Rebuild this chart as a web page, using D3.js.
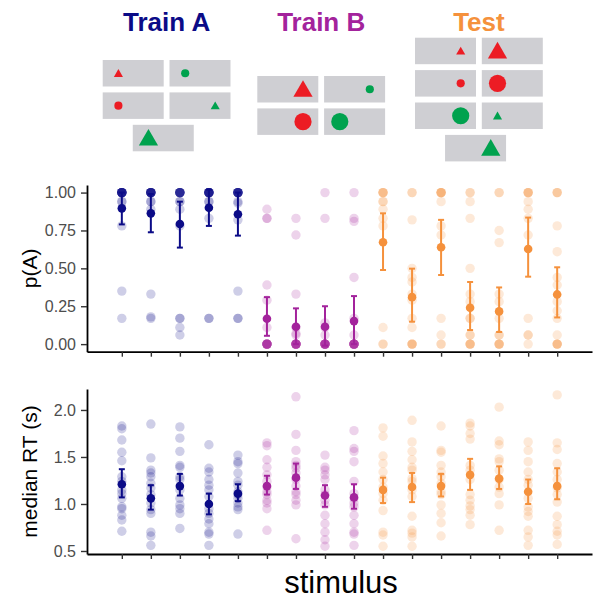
<!DOCTYPE html>
<html>
<head>
<meta charset="utf-8">
<script src="https://cdn.jsdelivr.net/npm/d3@7"></script>
<style>
body { margin: 0; background: #fff; }
svg { display: block; font-family: "Liberation Sans", Arial, sans-serif; }
</style>
</head>
<body>
<svg width="594" height="601"></svg>
<script>
// ---- data ----
var groups = ["Train A", "Train B", "Test"];
var groupColors = ["#0b0b87", "#a3239c", "#f5913c"];

var stimuli = ["A1", "A2", "A3", "A4", "A5", "B1", "B2", "B3", "B4",
               "T1", "T2", "T3", "T4", "T5", "T6", "T7"];
var stimGroup = [0, 0, 0, 0, 0, 1, 1, 1, 1, 2, 2, 2, 2, 2, 2, 2];

// what each stimulus looks like
var stimColor = ["red", "green", "red", "green", "green", "red", "green", "red", "green",
                 "red", "red", "red", "red", "green", "green", "green"];
var stimShape = ["tri", "circle", "circle", "tri", "tri", "tri", "circle", "circle", "circle",
                 "tri", "tri", "circle", "circle", "circle", "tri", "tri"];
var stimSize = ["small", "small", "small", "small", "big", "big", "small", "big", "big",
                "small", "big", "small", "big", "big", "small", "big"];
var stimSide = ["left", "left", "left", "right", "left", "right", "right", "right", "left",
                "right", "left", "right", "left", "right", "left", "right"];

// p(A) per participant
var pA = [
  [1,1,1,1,1,1,1,1,1,1,1,1, .94,.94, .78, .35, .17],
  [1,1,1,1,1,1,1,1,1,1,1, .94,.94, .89, .33, .17, .18],
  [1,1,1,1,1,1,1,1,1, .94,.94, .89, .78, .17,.17, .11, .06],
  [1,1,1,1,1,1,1,1,1,1,1, .94,.94, .83, .17,.17],
  [1,1,1,1,1,1,1,1,1,1, .94, .93, .82, .35, .17,.17],
  [.89, .83,.83, .39, .29, .11, 0,0,0,0,0,0,0,0,0,0],
  [.83, .72, .33, .11, .07, .06, 0,0,0,0,0,0,0,0,0,0],
  [1, .83, .14, .11, .06, 0,0,0,0,0,0,0,0,0,0],
  [1, .83, .81, .44, .17, .06, 0,0,0,0,0,0,0,0,0,0],
  [1,1,1,1, .94,.94, .89, .83, .78, .11, 0,0],
  [1,1, .82, .5, .44, .41, .33, .29, .17, .11, 0,0,0,0],
  [1,1,1,1,1, .94, .78, .72, .17, .06, 0,0],
  [1,1, .94, .83, .5, .33, .28, .17, .17, .06,.06, 0,0,0,0],
  [1,1, .75, .67, .33, .28, .17, .06,.06, 0,0,0,0],
  [1,1,1,1, .94, .89, .83, .72, .17, .06,.06, 0],
  [1,1,1, .78, .61, .44, .39, .28, .22, .17, .06, 0,0,0,0]
];
var pAMean = [0.896, 0.863, 0.793, 0.90, 0.857, 0.167, 0.115, 0.115, 0.152,
              0.672, 0.31, 0.639, 0.24, 0.216, 0.628, 0.328];
var pALo = [0.79, 0.738, 0.637, 0.78, 0.716, 0.055, 0.0, -0.01, 0.0,
            0.489, 0.148, 0.456, 0.093, 0.08, 0.445, 0.176];
var pAHi = [1.0, 0.99, 0.94, 1.02, 1.0, 0.31, 0.236, 0.25, 0.317,
            0.863, 0.498, 0.82, 0.41, 0.374, 0.835, 0.507];

// median RT (s) per participant
var rt = [
  [1.83, 1.80, 1.68, 1.55, 1.46, 1.29, 1.24, 1.15, 1.11, 1.06, 0.97, 0.95, 0.88, 0.83, 0.71],
  [1.85, 1.49, 1.36, 1.33, 1.29, 1.22, 1.17, 1.10, 1.01, 0.94, 0.90, 0.70, 0.66, 0.56],
  [1.82, 1.70, 1.56, 1.41, 1.39, 1.29, 1.26, 1.15, 1.06, 0.99, 0.95, 0.90, 0.74],
  [1.63, 1.38, 1.34, 1.26, 1.20, 1.15, 1.08, 0.95, 0.90, 0.84, 0.79, 0.70, 0.68, 0.56],
  [1.52, 1.45, 1.43, 1.33, 1.24, 1.20, 1.13, 1.10, 1.06, 1.01, 0.97, 0.94, 0.68],
  [1.65, 1.62, 1.47, 1.39, 1.31, 1.24, 1.18, 1.13, 1.10, 1.04, 1.01, 0.95, 0.72],
  [2.14, 1.74, 1.57, 1.45, 1.41, 1.38, 1.33, 1.26, 1.19, 1.13, 1.10, 1.04, 0.99, 0.63],
  [1.52, 1.39, 1.36, 1.31, 1.26, 1.15, 1.10, 1.04, 0.99, 0.88, 0.79, 0.70, 0.62, 0.55],
  [1.78, 1.59, 1.56, 1.45, 1.24, 1.11, 1.06, 1.01, 0.97, 0.88, 0.79, 0.70, 0.68, 0.56],
  [1.81, 1.72, 1.51, 1.43, 1.34, 1.26, 1.18, 1.11, 1.04, 0.93, 0.70, 0.67, 0.55],
  [1.89, 1.66, 1.56, 1.47, 1.39, 1.36, 1.27, 1.24, 1.15, 1.08, 0.87, 0.72, 0.69, 0.65, 0.55],
  [1.83, 1.57, 1.55, 1.41, 1.34, 1.29, 1.22, 1.13, 1.10, 0.99, 0.90, 0.80, 0.66],
  [1.86, 1.83, 1.75, 1.69, 1.41, 1.36, 1.26, 1.10, 1.04, 0.98, 0.94, 0.88, 0.78],
  [2.03, 1.67, 1.63, 1.48, 1.45, 1.36, 1.26, 1.18, 1.11, 0.99, 0.72],
  [1.66, 1.57, 1.45, 1.34, 1.26, 1.20, 1.06, 0.97, 0.92, 0.87, 0.72, 0.65, 0.56],
  [2.16, 1.65, 1.58, 1.43, 1.34, 1.26, 1.17, 1.10, 1.02, 0.87, 0.78, 0.71, 0.67, 0.57]
];
var rtMean = [1.21, 1.06, 1.19, 1.00, 1.11, 1.19, 1.28, 1.09, 1.07,
              1.15, 1.18, 1.19, 1.31, 1.27, 1.13, 1.19];
var rtLo = [1.07, 0.94, 1.09, 0.89, 1.03, 1.10, 1.16, 0.97, 0.95,
            1.01, 1.02, 1.08, 1.15, 1.16, 1.00, 1.05];
var rtHi = [1.37, 1.20, 1.32, 1.11, 1.21, 1.30, 1.43, 1.20, 1.21,
            1.28, 1.33, 1.32, 1.48, 1.40, 1.26, 1.38];

var pATicks = [0, 0.25, 0.5, 0.75, 1];
var rtTicks = [0.5, 1.0, 1.5, 2.0];

// ---- chart ----
var svg = d3.select("svg");
var shapeColors = { red: "#ec1c24", green: "#00a24e" };

var x = d3.scalePoint()
    .domain(stimuli)
    .range([87, 592])
    .padding(1.2);

var color = function(i) { return groupColors[stimGroup[i]]; };

// stimulus schematics at the top
var groupOrigin = [[102.7, 60], [257.3, 76], [415, 37.7]];
var cellW = 61, cellH = 26.5, pitchX = 66.8, pitchY = 32.4;

groups.forEach(function(g, gi) {
  svg.append("text")
      .attr("x", groupOrigin[gi][0] + (pitchX + cellW) / 2)
      .attr("y", 30.5)
      .attr("text-anchor", "middle")
      .attr("font-size", 26)
      .attr("font-weight", "bold")
      .attr("fill", groupColors[gi])
      .text(g);
});

var cells = [];
stimuli.forEach(function(s, i) {
  var gi = stimGroup[i];
  var members = stimGroup.filter(function(g) { return g === gi; }).length;
  var k = stimGroup.slice(0, i).filter(function(g) { return g === gi; }).length;
  var col = (k === members - 1 && members % 2 === 1) ? 0.45 : k % 2;
  cells.push({
    i: i,
    x: groupOrigin[gi][0] + col * pitchX,
    y: groupOrigin[gi][1] + Math.floor(k / 2) * pitchY
  });
});

var cell = svg.selectAll("g.stim")
  .data(cells)
  .enter().append("g")
    .attr("class", "stim")
    .attr("transform", function(d) { return "translate(" + d.x + "," + d.y + ")"; });

cell.append("rect")
    .attr("width", cellW)
    .attr("height", cellH)
    .attr("fill", "#cfcfd3");

var symbolArea = {
  tri: { small: 36, big: 160 },
  circle: { small: 52, big: 232 }
};

cell.append("path")
    .attr("transform", function(d) {
      var cx = stimSide[d.i] === "left" ? 15.7 : 45.7;
      var dy = stimShape[d.i] === "tri" ? (stimSize[d.i] === "big" ? 2 : 1) : 0;
      return "translate(" + cx + "," + (cellH / 2 + dy) + ")";
    })
    .attr("d", function(d) {
      var type = stimShape[d.i] === "tri" ? d3.symbolTriangle : d3.symbolCircle;
      return d3.symbol().type(type).size(symbolArea[stimShape[d.i]][stimSize[d.i]])();
    })
    .attr("fill", function(d) { return shapeColors[stimColor[d.i]]; });

// one panel = dots + mean + error bar
function panel(opts) {
  var y = d3.scaleLinear().domain(opts.domain).range([opts.bottom, opts.top]);
  var g = svg.append("g");

  var pts = [];
  opts.values.forEach(function(vals, i) {
    vals.forEach(function(v) { pts.push({ i: i, v: v }); });
  });

  g.selectAll("circle.raw")
    .data(pts)
    .enter().append("circle")
      .attr("class", "raw")
      .attr("cx", function(d) { return x(stimuli[d.i]); })
      .attr("cy", function(d) { return y(d.v); })
      .attr("r", 4.7)
      .attr("fill", function(d) { return color(d.i); })
      .attr("fill-opacity", 0.2);

  var bars = g.selectAll("g.bar")
    .data(stimuli.map(function(s, i) { return i; }))
    .enter().append("g")
      .attr("class", "bar")
      .attr("stroke", function(i) { return color(i); })
      .attr("stroke-width", 2);

  bars.append("line")
      .attr("x1", function(i) { return x(stimuli[i]); })
      .attr("x2", function(i) { return x(stimuli[i]); })
      .attr("y1", function(i) { return y(opts.lo[i]); })
      .attr("y2", function(i) { return y(opts.hi[i]); });

  [opts.lo, opts.hi].forEach(function(arr) {
    bars.append("line")
        .attr("x1", function(i) { return x(stimuli[i]) - 3; })
        .attr("x2", function(i) { return x(stimuli[i]) + 3; })
        .attr("y1", function(i) { return y(arr[i]); })
        .attr("y2", function(i) { return y(arr[i]); });
  });

  bars.append("circle")
      .attr("cx", function(i) { return x(stimuli[i]); })
      .attr("cy", function(i) { return y(opts.mean[i]); })
      .attr("r", 4.3)
      .attr("stroke", "none")
      .attr("fill", function(i) { return color(i); });

  var yAxis = g.append("g")
      .attr("transform", "translate(87,0)")
      .call(d3.axisLeft(y).tickValues(opts.ticks).tickFormat(d3.format(opts.fmt))
        .tickSize(6).tickSizeOuter(0).tickPadding(5));

  var xAxis = g.append("g")
      .attr("transform", "translate(0," + opts.bottom + ")")
      .call(d3.axisBottom(x).tickFormat("").tickSize(5).tickSizeOuter(0));

  [yAxis, xAxis].forEach(function(a) {
    a.select(".domain").attr("stroke", "#000").attr("stroke-width", 1.8);
    a.selectAll(".tick line").attr("stroke", "#333").attr("stroke-width", 1.4);
    a.selectAll(".tick text")
        .attr("fill", "#4d4d4d")
        .attr("font-size", 16)
        .attr("font-family", "Liberation Sans, Arial, sans-serif");
  });

  svg.append("text")
      .attr("transform", "translate(37," + (opts.top + opts.bottom) / 2 + ") rotate(-90)")
      .attr("text-anchor", "middle")
      .attr("font-size", 21)
      .attr("fill", "#000")
      .text(opts.title);
}

panel({
  values: pA, mean: pAMean, lo: pALo, hi: pAHi,
  domain: [-0.05, 1.05], top: 185, bottom: 351.7,
  ticks: pATicks, fmt: ".2f", title: "p(A)"
});

panel({
  values: rt, mean: rtMean, lo: rtLo, hi: rtHi,
  domain: [0.468, 2.223], top: 389, bottom: 554,
  ticks: rtTicks, fmt: ".1f", title: "median RT (s)"
});

svg.append("text")
    .attr("x", 341)
    .attr("y", 593)
    .attr("text-anchor", "middle")
    .attr("font-size", 31)
    .attr("fill", "#000")
    .text("stimulus");
</script>
</body>
</html>
